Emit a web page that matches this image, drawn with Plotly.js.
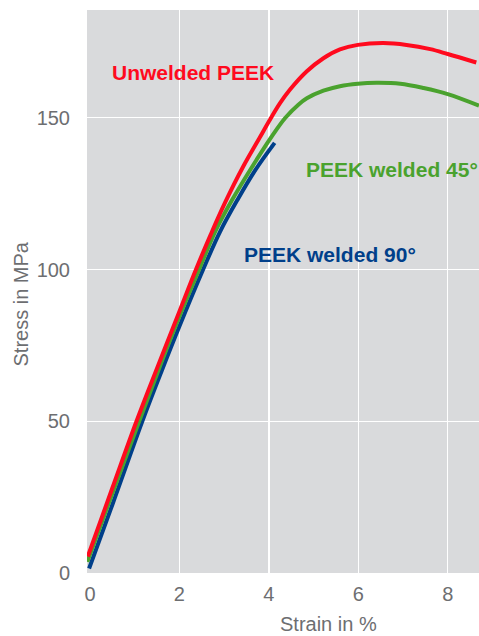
<!DOCTYPE html>
<html>
<head>
<meta charset="utf-8">
<script src="https://cdn.plot.ly/plotly-3.0.1.min.js"></script>
<style>html,body{margin:0;padding:0;background:#fff;}#chart{width:479px;height:636px;}</style>
</head>
<body>
<div id="chart"></div>
<script>
// Unwelded PEEK
const unweldedStrain = [-0.05, 0.5, 1.04, 1.5, 2.0, 2.37, 2.70, 3.02, 3.43, 3.81, 4.01, 4.25, 4.47, 4.85, 5.22, 5.59, 5.99, 6.56, 7.08, 7.61, 8.0, 8.64];
const unweldedStress = [5.4, 28, 50, 67.5, 86.2, 100, 111.5, 122, 134, 143.8, 149, 154.8, 159.2, 165.3, 169.6, 172.5, 174.0, 174.6, 174.0, 172.6, 171.0, 168.2];
// PEEK welded 45°
const welded45Strain = [-0.06, 0.5, 1.10, 1.6, 2.0, 2.44, 2.80, 3.17, 3.62, 4.10, 4.37, 4.66, 4.85, 5.22, 5.59, 5.99, 6.41, 6.94, 7.46, 8.0, 8.70];
const welded45Stress = [3.7, 26.2, 50, 69.5, 84.5, 100, 112.5, 122.7, 133.7, 144.6, 150, 154.3, 156.4, 158.9, 160.4, 161.2, 161.5, 161.2, 159.8, 157.8, 154.0];
// PEEK welded 90°
const welded90Strain = [-0.02, 0.5, 1.17, 1.6, 2.0, 2.53, 2.91, 3.30, 3.70, 4.13];
const welded90Stress = [1.5, 22.5, 50, 66.5, 81.3, 100, 112.5, 123, 132.8, 141.7];

const seriesNames = ["Unwelded PEEK", "PEEK welded 45°", "PEEK welded 90°"];
const xTicks = [0, 2, 4, 6, 8];
const xTickText = ["0", "2", "4", "6", "8"];
const yTicks = [0, 50, 100, 150];
const yTickText = ["0", "50", "100", "150"];
const xTitle = "Strain in %";
const yTitle = "Stress in MPa";

const RED = "#ff0a1e", GREEN = "#4aa22e", BLUE = "#003f8a";
const GREY = "#6d6e71";
const FONT = "Liberation Sans, Arial, sans-serif";

const traces = [
  {x: welded90Strain, y: welded90Stress, name: seriesNames[2], mode: "lines", line: {color: BLUE, width: 4, shape: "spline", smoothing: 1}},
  {x: welded45Strain, y: welded45Stress, name: seriesNames[1], mode: "lines", line: {color: GREEN, width: 4, shape: "spline", smoothing: 1}},
  {x: unweldedStrain, y: unweldedStress, name: seriesNames[0], mode: "lines", line: {color: RED, width: 4, shape: "spline", smoothing: 1}}
];

const layout = {
  width: 479, height: 636,
  margin: {l: 87, r: 0, t: 10, b: 63, pad: 0},
  paper_bgcolor: "#ffffff",
  plot_bgcolor: "#d9dadc",
  showlegend: false,
  font: {family: FONT, color: GREY},
  xaxis: {
    range: [-0.067, 8.70],
    tickmode: "array", tickvals: xTicks, ticktext: xTickText,
    showgrid: false, zeroline: false, showline: false,
    ticks: "outside", ticklen: 3, tickcolor: "rgba(0,0,0,0)",
    tickfont: {size: 20, color: GREY, family: FONT},
    minor: {tickmode: "array", tickvals: [2, 4, 6, 8], showgrid: true, gridcolor: "#ffffff", gridwidth: 1.5, ticks: ""}
  },
  yaxis: {
    range: [0, 185.5],
    tickmode: "array", tickvals: yTicks, ticktext: yTickText,
    showgrid: true, gridcolor: "#ffffff", gridwidth: 1.5,
    zeroline: false, showline: false,
    ticks: "outside", ticklen: 12, tickcolor: "rgba(0,0,0,0)",
    tickfont: {size: 20, color: GREY, family: FONT}
  },
  annotations: [
    {x: 0.45, y: 164.9, xref: "x", yref: "y", xanchor: "left", yanchor: "middle", showarrow: false,
     text: "<b>" + seriesNames[0] + "</b>", font: {size: 21, color: RED, family: FONT}},
    {x: 4.78, y: 133.1, xref: "x", yref: "y", xanchor: "left", yanchor: "middle", showarrow: false,
     text: "<b>" + seriesNames[1] + "</b>", font: {size: 21, color: GREEN, family: FONT}},
    {x: 3.40, y: 104.9, xref: "x", yref: "y", xanchor: "left", yanchor: "middle", showarrow: false,
     text: "<b>" + seriesNames[2] + "</b>", font: {size: 21, color: BLUE, family: FONT}},
    {x: 0.617, y: 636 - 636, xref: "paper", yref: "paper", yshift: -51, xanchor: "center", yanchor: "middle", showarrow: false,
     text: xTitle, font: {size: 20, color: GREY, family: FONT}},
    {x: -0.1696, y: 0.4778, xref: "paper", yref: "paper", xanchor: "center", yanchor: "middle", showarrow: false,
     textangle: -90, text: yTitle, font: {size: 20, color: GREY, family: FONT}}
  ]
};

Plotly.newPlot("chart", traces, layout, {staticPlot: true, displayModeBar: false});
</script>
</body>
</html>
